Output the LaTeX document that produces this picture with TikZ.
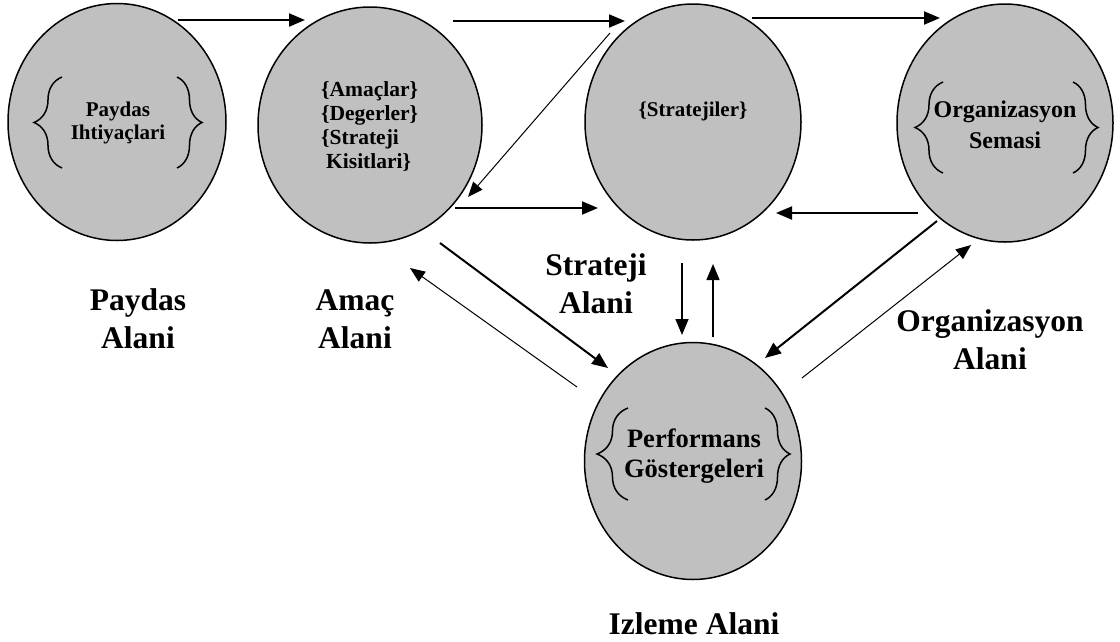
\documentclass[tikz,border=0pt]{standalone}
\usepackage{fontspec}
\setmainfont{Liberation Serif}
\usetikzlibrary{shapes.geometric,arrows.meta,decorations.pathreplacing}
\definecolor{areagray}{HTML}{C0C0C0}
\begin{document}
\begin{tikzpicture}[x=1pt,y=-1pt,
  area/.style={ellipse,draw=black,line width=1.5pt,fill=areagray,inner sep=0pt},
  bigarrow/.style={line width=2pt,-{Triangle[length=16pt,width=13pt]}},
  midarrow/.style={line width=1.5pt,-{Triangle[length=16pt,width=13pt]}},
  thinarrow/.style={line width=1pt,-{Triangle[length=15pt,width=12pt]}},
  brc/.style={decorate,decoration={brace,amplitude=#1},line width=1.5pt},
  brc/.default=25pt,
  intext/.style={font=\fontsize{21}{23}\selectfont\bfseries,align=center,inner sep=0pt},
  lbl/.style={font=\fontsize{31.5}{38}\selectfont\bfseries,align=center,inner sep=0pt}]
\useasboundingbox (0,0) rectangle (1120,641);

% areas
\node[area,minimum width=218pt,minimum height=237pt] (paydas) at (117,122) {};
\node[area,minimum width=224pt,minimum height=236pt] (amac) at (370,125) {};
\node[area,minimum width=216pt,minimum height=236pt] (strat) at (693,122) {};
\node[area,minimum width=216pt,minimum height=238pt] (org) at (1005,123) {};
\node[area,minimum width=217pt,minimum height=237pt] (perf) at (693,461) {};

% braces
\draw[brc=28pt] (62,168) -- (62,77);
\draw[brc=25pt] (177,77) -- (177,168);
\draw[brc=28pt] (943,173) -- (943,82);
\draw[brc=25pt] (1073,82) -- (1073,173);
\draw[brc=31pt] (628,500) -- (628,408);
\draw[brc=25pt] (765,408) -- (765,500);

% inner texts
\node[intext] (tpaydas) at (118,123) {Paydas\\Ihtiyaçlari};
\node[intext,font=\fontsize{21.5}{24}\selectfont\bfseries,align=left,anchor=west] (tamac) at (321,126)
  {\{Amaçlar\}\\\{Degerler\}\\\{Strateji\\\hspace*{5pt}Kisitlari\}};
\node[intext] (tstrat) at (693,111) {\{Stratejiler\}};
\node[intext,font=\fontsize{24}{31}\selectfont\bfseries] (torg) at (1005,124.5) {Organizasyon\\Semasi};
\node[intext,font=\fontsize{26.5}{29.5}\selectfont\bfseries] (tperf) at (694,456) {Performans\\Göstergeleri};

% labels
\node[lbl] (lpaydas) at (138,319) {Paydas\\Alani};
\node[lbl] (lamac) at (355,319) {Amaç\\Alani};
\node[lbl] (lstrat) at (596,284) {Strateji\\Alani};
\node[lbl] (lorg) at (990,340) {Organizasyon\\Alani};
\node[lbl] (lizle) at (694,624) {Izleme Alani};

% connector end points
\coordinate (p1) at (178,20);  \coordinate (p2) at (305,20);
\coordinate (p3) at (453,21);  \coordinate (p4) at (625,21);
\coordinate (p5) at (752,18);  \coordinate (p6) at (940,18);
\coordinate (p7) at (610,33);  \coordinate (p8) at (468,197);
\coordinate (p9) at (455,208); \coordinate (p10) at (598,208);
\coordinate (p11) at (918,213); \coordinate (p12) at (776,213);
\coordinate (p13) at (440,243); \coordinate (p14) at (608,368);
\coordinate (p15) at (577,387); \coordinate (p16) at (410,268);
\coordinate (p17) at (682,263); \coordinate (p18) at (682,335);
\coordinate (p19) at (713,337); \coordinate (p20) at (713,264);
\coordinate (p21) at (937,221); \coordinate (p22) at (765,358);
\coordinate (p23) at (802,378); \coordinate (p24) at (971,245);

% connectors
\draw[bigarrow] (p1) -- (p2);
\draw[bigarrow] (p3) -- (p4);
\draw[bigarrow] (p5) -- (p6);
\draw[thinarrow] (p7) -- (p8);
\draw[bigarrow] (p9) -- (p10);
\draw[bigarrow] (p11) -- (p12);
\draw[bigarrow] (p13) -- (p14);
\draw[thinarrow] (p15) -- (p16);
\draw[midarrow] (p17) -- (p18);
\draw[midarrow] (p19) -- (p20);
\draw[bigarrow] (p21) -- (p22);
\draw[thinarrow] (p23) -- (p24);
\end{tikzpicture}
\end{document}
